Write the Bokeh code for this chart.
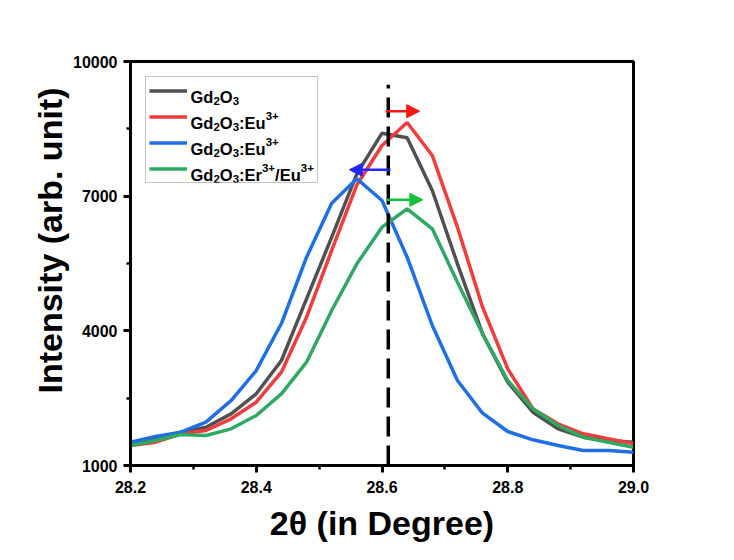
from bokeh.plotting import figure
from bokeh.models import (Range1d, FixedTicker, PrintfTickFormatter, Legend, LegendItem,
                          Arrow, NormalHead, Label, Title)
from bokeh.embed import file_html
from bokeh.resources import INLINE

# ---- data ----
two_theta = [28.20, 28.24, 28.28, 28.32, 28.36, 28.40, 28.44, 28.48, 28.52, 28.56, 28.60,
             28.64, 28.68, 28.72, 28.76, 28.80, 28.84, 28.88, 28.92, 28.96, 29.00]
gd2o3 = [1483, 1594, 1742, 1853, 2151, 2597, 3339, 4713, 6087, 7498, 8403,
         8300, 7126, 5493, 3933, 2856, 2187, 1817, 1631, 1557, 1519]
gd2o3_eu_a = [1445, 1519, 1706, 1780, 2040, 2410, 3079, 4304, 5790, 7250, 8129,
              8640, 7906, 6309, 4527, 3154, 2263, 1929, 1706, 1594, 1483]
gd2o3_eu_b = [1519, 1646, 1742, 1965, 2448, 3116, 4163, 5640, 6843, 7387, 6904,
              5640, 4119, 2894, 2165, 1757, 1572, 1445, 1334, 1334, 1297]
gd2o3_er_eu = [1445, 1557, 1691, 1668, 1817, 2114, 2597, 3301, 4453, 5493, 6309,
               6718, 6273, 5084, 3933, 2894, 2263, 1891, 1631, 1519, 1408]

# legend labels as (text, position) pieces: n = normal, sub = subscript, sup = superscript
series_labels = [
    [("Gd", "n"), ("2", "sub"), ("O", "n"), ("3", "sub")],
    [("Gd", "n"), ("2", "sub"), ("O", "n"), ("3", "sub"), (":Eu", "n"), ("3+", "sup")],
    [("Gd", "n"), ("2", "sub"), ("O", "n"), ("3", "sub"), (":Eu", "n"), ("3+", "sup")],
    [("Gd", "n"), ("2", "sub"), ("O", "n"), ("3", "sub"), (":Er", "n"), ("3+", "sup"),
     ("/Eu", "n"), ("3+", "sup")],
]
series_colors = ["#505050", "#f03c3c", "#1e6ee6", "#2fa862"]

x_ticks = [28.2, 28.4, 28.6, 28.8, 29.0]
x_minor = [28.3, 28.5, 28.7, 28.9]
y_ticks = [1000, 4000, 7000, 10000]
y_minor = [2500, 5500, 8500]

ref_x = [28.61, 28.61]
ref_y = [1000, 9480]

arrow_x_start = [28.606, 28.6135, 28.608]
arrow_x_end = [28.660, 28.548, 28.665]
arrow_y = [8893, 7588, 6919]
arrow_colors = ["#ff1414", "#2424ff", "#12c23c"]

# ---- layout constants ----
FRAME_L, FRAME_T, FRAME_W, FRAME_H = 130, 61, 503, 404
FONT = "Liberation Sans"

p = figure(width=734, height=560, output_backend="svg", toolbar_location=None,
           x_range=Range1d(28.2, 29.0), y_range=Range1d(1000, 10000),
           min_border_left=FRAME_L, min_border_right=734 - FRAME_L - FRAME_W,
           min_border_top=FRAME_T, min_border_bottom=560 - FRAME_T - FRAME_H)
p.background_fill_color = "white"
p.border_fill_color = "white"
p.grid.visible = False
p.outline_line_color = "black"
p.outline_line_width = 3
p.outline_line_alpha = 1.0

renderers = []
for ys, c in zip([gd2o3, gd2o3_eu_a, gd2o3_eu_b, gd2o3_er_eu], series_colors):
    renderers.append(p.line(two_theta, ys, line_color=c, line_width=3.5))

p.line(ref_x, ref_y, line_color="black", line_width=3.5, line_dash="20 9")

for xs, xe, y, c in zip(arrow_x_start, arrow_x_end, arrow_y, arrow_colors):
    p.add_layout(Arrow(x_start=xs, y_start=y, x_end=xe, y_end=y, line_color=c, line_width=2.5,
                       end=NormalHead(size=13, fill_color=c, line_color=c, line_width=1)))

for ax in (p.xaxis[0], p.yaxis[0]):
    ax.axis_line_width = 3
    ax.axis_line_color = "black"
    ax.major_tick_line_width = 3
    ax.minor_tick_line_width = 2.5
    ax.major_tick_out = 7
    ax.major_tick_in = 0
    ax.minor_tick_out = 4
    ax.minor_tick_in = 0
    ax.major_label_text_font = FONT
    ax.major_label_text_font_style = "bold"
    ax.major_label_text_font_size = "16px"
    ax.major_label_text_color = "black"
    ax.axis_label_text_font = FONT
    ax.axis_label_text_font_style = "bold"
    ax.axis_label_text_font_size = "34px"
    ax.axis_label_text_color = "black"

p.xaxis.ticker = FixedTicker(ticks=x_ticks, minor_ticks=x_minor)
p.xaxis.formatter = PrintfTickFormatter(format="%.1f")
p.yaxis.ticker = FixedTicker(ticks=y_ticks, minor_ticks=y_minor)
p.xaxis.axis_label = "2\u03b8 (in Degree)"
p.xaxis.major_label_standoff = 8
p.yaxis.major_label_standoff = 6
p.xaxis.axis_label_standoff = 8

# y-axis title as a side title, starting 72 px above the frame bottom
p.add_layout(Title(text="Intensity (arb. unit)", align="left", offset=72, standoff=4,
                   text_font=FONT, text_font_style="bold", text_font_size="34px",
                   text_color="black"), "left")

# legend box and line samples
LEG_MARGIN, LEG_PAD, ROW_H, ROW_GAP = 15, 3, 21, 5
legend = Legend(items=[LegendItem(label=" ", renderers=[r]) for r in renderers],
                location="top_left")
legend.margin = LEG_MARGIN
legend.padding = LEG_PAD
legend.spacing = ROW_GAP
legend.glyph_width = 38
legend.glyph_height = ROW_H
legend.label_height = ROW_H
legend.label_width = 123
legend.label_standoff = 4
legend.label_text_font_size = "16px"
legend.border_line_color = "#8a8a8a"
legend.border_line_width = 1.5
legend.background_fill_alpha = 0.0
p.add_layout(legend)

# legend texts with real sub/superscripts
ADV = {"G": .778, "d": .611, "O": .778, ":": .333, "E": .667, "u": .611, "r": .389,
       "/": .278, "2": .556, "3": .556, "+": .584}
MAIN, SMALL = 16.5, 11.5
text_x0 = LEG_MARGIN + LEG_PAD + 38 + 4
for i, pieces in enumerate(series_labels):
    row_c = LEG_MARGIN + LEG_PAD + ROW_H / 2 + i * (ROW_H + ROW_GAP)  # from frame top
    base = row_c + 6.5
    x = text_x0
    for txt, kind in pieces:
        size = MAIN if kind == "n" else SMALL
        dy = {"n": 0, "sub": 4, "sup": -7}[kind]
        p.add_layout(Label(x=x, y=FRAME_H - (base + dy), x_units="screen", y_units="screen",
                           text=txt, text_align="left", text_baseline="alphabetic",
                           text_font=FONT, text_font_style="bold",
                           text_font_size=f"{size}px", text_color="black"))
        x += sum(ADV[ch] for ch in txt) * size

open("out.html", "w").write(file_html(p, INLINE))
